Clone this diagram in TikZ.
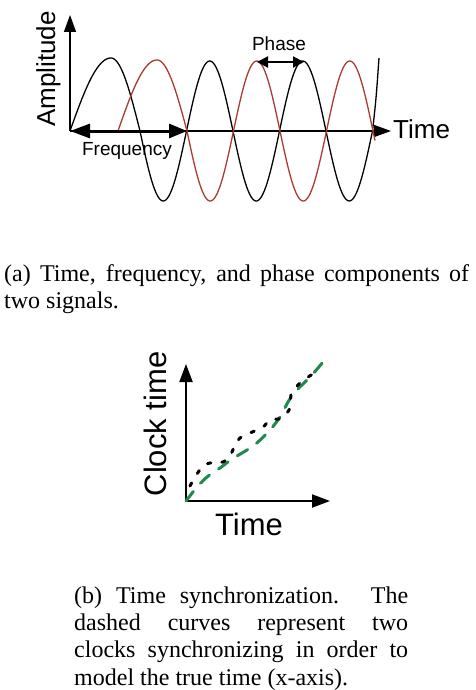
\documentclass[tikz,border=0pt]{standalone}
\usepackage{fontspec}
\setmainfont{Liberation Serif}
\newfontfamily\lblfont{Liberation Sans}
\usepackage{xcolor}
\definecolor{sigRed}{HTML}{A93B31}
\definecolor{clkGreen}{HTML}{21894D}
\usetikzlibrary{arrows.meta}

\begin{document}
\begin{tikzpicture}[x=1pt,y=-1pt,
  sig/.style={line width=1.3pt},
  axis/.style={line width=1.5pt,-{Triangle[length=17pt,width=12pt]}},
  lbl/.style={font={\lblfont\fontsize{#1}{#1}\selectfont},inner sep=0pt},
  cap/.style={anchor=base west,inner sep=0pt,text width=#1,align=justify,
    font={\fontsize{24}{27.2}\selectfont\hyphenpenalty=10000}}]
  \useasboundingbox (0,0) rectangle (476,690);

  % (a) two signals
  \coordinate (o1) at (70,131);
  \coordinate (ytip1) at (70,15);
  \coordinate (xtip1) at (391,131);
  \coordinate (f1) at (187,131);
  \coordinate (ph0) at (257,62);
  \coordinate (ph1) at (304,62);
  \draw[axis] (o1) -- (ytip1);
  \draw[axis,line width=1.2pt] (o1) -- (xtip1);
  \draw[sig] plot[domain=70:111,samples=40] (\x,{131-73*sin((\x-70)*2.195)})
    -- plot[domain=111:140,samples=30] (\x,{131-73*cos((\x-111)*3.103)})
    -- plot[domain=140:372.5,samples=160] (\x,{131+70*sin((\x-140)*3.871)})
    .. controls (376,100) .. (379,58);
  \draw[sig,sigRed] plot[domain=118:157,samples=40] (\x,{131-71*sin((\x-118)*2.308)})
    -- plot[domain=157:187,samples=30] (\x,{131-71*cos((\x-157)*3)})
    -- plot[domain=187:375,samples=160] (\x,{131+70*sin((\x-187)*3.871)});
  \draw[line width=3pt,{Triangle[length=20pt,width=14pt]}-{Triangle[length=18pt,width=14pt]}] (o1) -- (f1);
  \draw[line width=2pt,{Triangle[length=11pt,width=11pt]}-{Triangle[length=11pt,width=11pt]}] (ph0) -- (ph1);
  \node[lbl=26,anchor=base,rotate=90] (amp) at (55,69) {Amplitude};
  \node[lbl=26,anchor=base west] (time1) at (393,139) {Time};
  \node[lbl=19,anchor=base] (freq) at (127,155) {Frequency};
  \node[lbl=19,anchor=base] (phase) at (279,51) {Phase};
  \node[cap=465pt] (capa) at (4,281.5) {(a) Time, frequency, and phase components of\linebreak two signals.};

  % (b) clock synchronization
  \coordinate (o2) at (186,501);
  \coordinate (ytip2) at (186,364);
  \coordinate (xtip2) at (330,501);
  \draw[axis,line width=2pt,-{Triangle[length=18pt,width=13pt]}] (o2) -- (ytip2);
  \draw[axis,line width=2pt,-{Triangle[length=18pt,width=13pt]}] (o2) -- (xtip2);
  \draw[clkGreen,line width=3pt,line cap=round,dash pattern=on 12pt off 11pt]
    plot[smooth] coordinates {(186,501) (197,487) (207,477) (220,468) (232,459) (247,450)
      (258,442) (270,430) (280,417) (288,402) (295,392) (310,377) (318,368) (324,360) (323,354)};
  \draw[line width=3pt,line cap=round,dash pattern=on 3.5pt off 11pt]
    plot[smooth] coordinates {(190,486) (195,477) (203,466) (210,463) (223,462) (230,456)
      (235,445) (240,438) (250,433) (263,427) (270,420) (282,418) (290,408) (291,395)
      (297,386) (305,379) (313,374)};
  \node[lbl=31,anchor=base,rotate=90] (clk) at (166,424) {Clock time};
  \node[lbl=31,anchor=base] (time2) at (249,535) {Time};
  \node[cap=334pt] (capb) at (74,603.5) {(b) Time synchronization. The\linebreak dashed curves represent two\linebreak clocks synchronizing in order to\linebreak model the true time (x-axis).};
\end{tikzpicture}
\end{document}
